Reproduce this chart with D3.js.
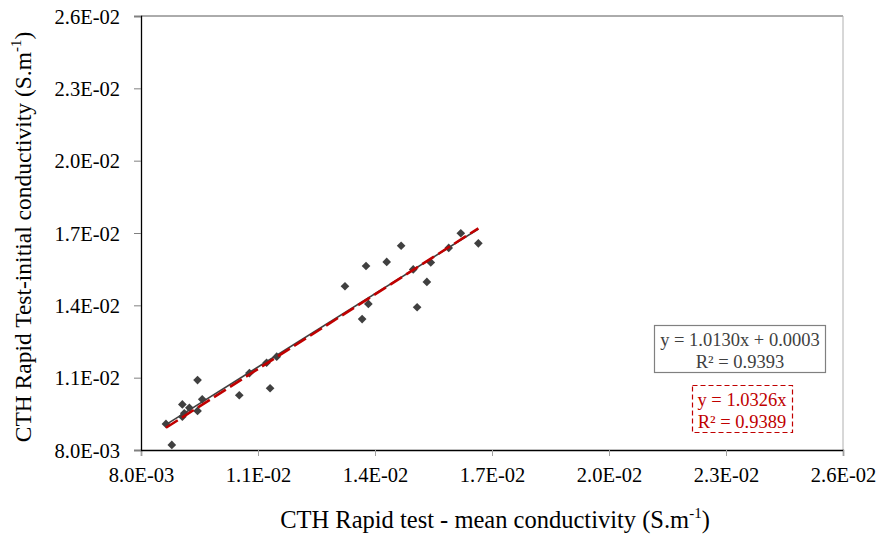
<!DOCTYPE html>
<html><head><meta charset="utf-8">
<script src="https://cdn.jsdelivr.net/npm/d3@7"></script>
<style>body{margin:0;background:#fff}svg{display:block}text{font-family:"Liberation Serif","Times New Roman",serif}</style>
</head><body><svg id="c" width="880" height="539"></svg>
<script>
const xValues = [8.64,8.79,9.06,9.06,9.11,9.24,9.45,9.45,9.57,10.52,10.78,11.22,11.31,11.48,13.23,13.67,13.77,13.83,14.30,14.67,14.98,15.08,15.33,15.43,15.89,16.20,16.65].map(v=>v*1e-3);
const yValues = [9.08,8.21,9.89,9.38,9.52,9.75,10.90,9.62,10.10,10.27,11.19,11.62,10.56,11.87,14.79,13.43,15.63,14.06,15.80,16.47,15.49,13.92,14.97,15.78,16.38,16.99,16.57].map(v=>v*1e-3);
const tickValues = [0.008,0.011,0.014,0.017,0.020,0.023,0.026];
const tickLabels = ["8.0E-03","1.1E-02","1.4E-02","1.7E-02","2.0E-02","2.3E-02","2.6E-02"];
const fit1 = {slope:1.0130, intercept:0.0003, label:"y = 1.0130x + 0.0003", r2:"R² = 0.9393"};
const fit2 = {slope:1.0326, intercept:0, label:"y = 1.0326x", r2:"R² = 0.9389"};
const xTitle = "CTH Rapid test - mean conductivity (S.m";
const yTitle = "CTH Rapid Test-initial conductivity (S.m";

const FONT = "Liberation Serif, Times New Roman, serif";
const svg = d3.select("#c");
const L=141,R=843,T=16,B=450;
const x = d3.scaleLinear().domain([0.008,0.026]).range([L,R]);
const y = d3.scaleLinear().domain([0.008,0.026]).range([B,T]);

// borders
svg.append("line").attr("x1",L).attr("x2",R).attr("y1",T).attr("y2",T).attr("stroke","#595959").attr("stroke-width",1);
svg.append("line").attr("x1",R).attr("x2",R).attr("y1",T).attr("y2",B).attr("stroke","#b0b0b0").attr("stroke-width",1);

// axes
const xa = svg.append("g").attr("transform",`translate(0,${B})`)
  .call(d3.axisBottom(x).tickValues(tickValues).tickFormat((d,i)=>tickLabels[i]).tickSize(6));
xa.attr("font-family",FONT).attr("font-size",20.5);
xa.select(".domain").attr("stroke","#000").attr("stroke-width",1.3);
xa.selectAll(".tick line").attr("stroke","#a0a0a0");
xa.selectAll(".tick text").attr("font-size",20.5).attr("font-family",FONT).attr("fill","#000").attr("y",32).attr("dy",0);

const ya = svg.append("g").attr("transform",`translate(${L},0)`)
  .call(d3.axisLeft(y).tickValues(tickValues).tickFormat((d,i)=>tickLabels[i]).tickSize(7).tickPadding(14));
ya.attr("font-family",FONT).attr("font-size",20.5);
ya.select(".domain").attr("stroke","#000").attr("stroke-width",1.3);
ya.selectAll(".tick line").attr("stroke","#808080");
ya.selectAll(".tick text").attr("font-size",20.5).attr("font-family",FONT).attr("fill","#000").attr("dy","0.35em");

// trend lines
const xmin = d3.min(xValues), xmax = d3.max(xValues);
svg.append("line").attr("x1",x(xmin)).attr("x2",x(xmax))
  .attr("y1",y(fit1.slope*xmin+fit1.intercept)).attr("y2",y(fit1.slope*xmax+fit1.intercept))
  .attr("stroke","#404040").attr("stroke-width",1.6);

// points
const diamond = d3.symbol().type(d3.symbolDiamond2).size(48);
svg.append("g").selectAll("path").data(xValues.map((v,i)=>[v,yValues[i]])).join("path")
  .attr("d",diamond).attr("transform",d=>`translate(${x(d[0])},${y(d[1])})`).attr("fill","#404040");

svg.append("line").attr("x1",x(xmin)).attr("x2",x(xmax))
  .attr("y1",y(fit2.slope*xmin+fit2.intercept)).attr("y2",y(fit2.slope*xmax+fit2.intercept))
  .attr("stroke","#c00000").attr("stroke-width",2.6).attr("stroke-dasharray","14,5");

// label boxes
svg.append("rect").attr("x",654.5).attr("y",325.5).attr("width",171).attr("height",47).attr("fill","#fff").attr("stroke","#808080").attr("stroke-width",1.2);
svg.append("text").attr("x",740).attr("y",346).attr("text-anchor","middle").attr("font-size",18.5).attr("fill","#404040").text(fit1.label);
svg.append("text").attr("x",740).attr("y",368).attr("text-anchor","middle").attr("font-size",18.5).attr("fill","#404040").text(fit1.r2);

svg.append("rect").attr("x",692.5).attr("y",385.5).attr("width",100).attr("height",47).attr("fill","#fff").attr("stroke","#c00000").attr("stroke-width",1.2).attr("stroke-dasharray","5,3");
svg.append("text").attr("x",742).attr("y",406).attr("text-anchor","middle").attr("font-size",18.5).attr("fill","#c00000").text(fit2.label);
svg.append("text").attr("x",742).attr("y",428).attr("text-anchor","middle").attr("font-size",18.5).attr("fill","#c00000").text(fit2.r2);

// titles
const xt = svg.append("text").attr("x",495).attr("y",528).attr("text-anchor","middle").attr("font-size",24.5).attr("fill","#000");
xt.append("tspan").text(xTitle);
xt.append("tspan").attr("font-size",15).attr("dy",-10).text("-1");
xt.append("tspan").attr("dy",10).text(")");

const yt = svg.append("text").attr("transform","translate(31,237) rotate(-90)").attr("text-anchor","middle").attr("font-size",23.5).attr("fill","#000");
yt.append("tspan").text(yTitle);
yt.append("tspan").attr("font-size",15).attr("dy",-10).text("-1");
yt.append("tspan").attr("dy",10).text(")");
</script></body></html>
